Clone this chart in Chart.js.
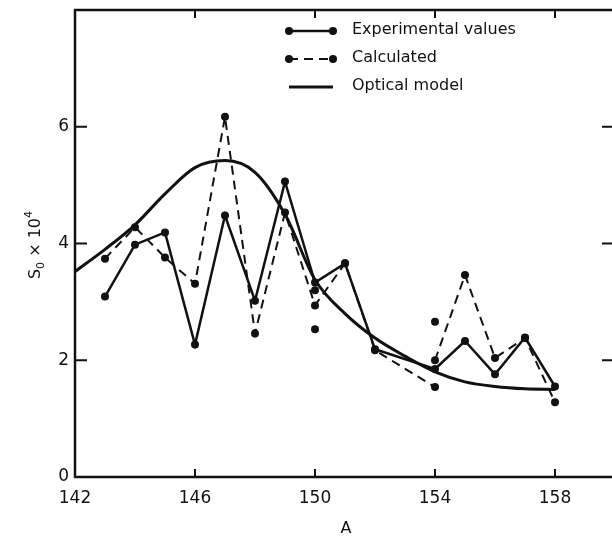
<!DOCTYPE html>
<html>
<head>
<meta charset="utf-8">
<script src="https://cdn.jsdelivr.net/npm/chart.js@4/dist/chart.umd.min.js"></script>
<style>
  html, body { margin: 0; padding: 0; background: #fff; }
  canvas { display: block; }
</style>
</head>
<body>
<canvas id="chart" width="612" height="537"></canvas>
<script>
// mass number A and S0 x 10^4 for each series
const expA = [143, 144, 145, 146, 147, 148, 149, 150, 151, 152, 154, 155, 156, 157, 158];
const expValues = [3.09, 3.98, 4.19, 2.27, 4.48, 3.02, 5.06, 3.33, 3.66, 2.19, 1.85, 2.33, 1.76, 2.39, 1.55];

// the two values at 154 are not joined
const calcA = [143, 144, 145, 146, 147, 148, 149, 150, 151, 152, 154, 154, 154, 155, 156, 157, 158];
const calcValues = [3.74, 4.28, 3.76, 3.31, 6.17, 2.46, 4.53, 2.94, 3.66, 2.17, 1.54, null, 2.0, 3.46, 2.04, 2.38, 1.28];

// loose calculated points
const extraA = [150, 150, 154];
const extraValues = [3.2, 2.53, 2.66];

const opticalA = [142, 143, 144, 145, 146, 147, 148, 149, 150, 151, 152, 153, 154, 155, 156, 157, 158];
const opticalValues = [3.52, 3.9, 4.32, 4.85, 5.3, 5.42, 5.22, 4.5, 3.38, 2.8, 2.38, 2.07, 1.8, 1.63, 1.55, 1.51, 1.5];

const xTicks = [142, 146, 150, 154, 158];
const yTicks = [0, 2, 4, 6];

const ink = "#111";
const fontFamily = "'DejaVu Sans', sans-serif";

function pairs(xs, ys) {
  return xs.map((x, i) => ({ x: x, y: ys[i] }));
}

// left, top and bottom frame lines with inward tick marks;
// the right edge runs off the canvas, only its ticks show
const framePlugin = {
  id: "frame",
  afterDraw(chart) {
    const { ctx, chartArea: a, scales } = chart;
    ctx.save();
    ctx.strokeStyle = ink;
    ctx.lineWidth = 2.5;
    ctx.beginPath();
    ctx.moveTo(a.right + 2, a.top);
    ctx.lineTo(a.left, a.top);
    ctx.lineTo(a.left, a.bottom);
    ctx.lineTo(a.right + 2, a.bottom);
    ctx.stroke();
    ctx.lineWidth = 2;
    ctx.beginPath();
    xTicks.forEach((v) => {
      const px = scales.x.getPixelForValue(v);
      ctx.moveTo(px, a.bottom);
      ctx.lineTo(px, a.bottom - 8);
      ctx.moveTo(px, a.top);
      ctx.lineTo(px, a.top + 8);
    });
    yTicks.forEach((v) => {
      const py = scales.y.getPixelForValue(v);
      ctx.moveTo(a.left, py);
      ctx.lineTo(a.left + 12, py);
      ctx.moveTo(a.right, py);
      ctx.lineTo(a.right - 10, py);
    });
    ctx.stroke();
    ctx.restore();
  },
};

// axis titles, the y one with sub- and superscript
const titlesPlugin = {
  id: "titles",
  afterDraw(chart) {
    const { ctx } = chart;
    ctx.save();
    ctx.fillStyle = ink;
    ctx.textBaseline = "alphabetic";
    ctx.textAlign = "left";

    ctx.font = "16px " + fontFamily;
    const xw = ctx.measureText("A").width;
    ctx.fillText("A", 346 - xw / 2, 533);

    const parts = [
      { t: "S", size: 16, dy: 0 },
      { t: "0", size: 11, dy: 4 },
      { t: " \u00d7 10", size: 16, dy: 0 },
      { t: "4", size: 11, dy: -8 },
    ];
    let total = 0;
    parts.forEach((p) => {
      ctx.font = p.size + "px " + fontFamily;
      p.w = ctx.measureText(p.t).width;
      total += p.w;
    });
    ctx.translate(40, 245);
    ctx.rotate(-Math.PI / 2);
    let x = -total / 2;
    parts.forEach((p) => {
      ctx.font = p.size + "px " + fontFamily;
      ctx.fillText(p.t, x, p.dy);
      x += p.w;
    });
    ctx.restore();
  },
};

// legend in the top right corner, styled from the datasets
const legendPlugin = {
  id: "seriesKey",
  afterDraw(chart) {
    const { ctx } = chart;
    const rows = [0, 1, 3];
    const x0 = 289, x1 = 333, tx = 352;
    ctx.save();
    rows.forEach((di, i) => {
      const ds = chart.data.datasets[di];
      const y = 31 + i * 28;
      ctx.strokeStyle = ink;
      ctx.lineWidth = ds.borderWidth;
      ctx.setLineDash(ds.borderDash || []);
      ctx.beginPath();
      ctx.moveTo(x0, y);
      ctx.lineTo(x1, y);
      ctx.stroke();
      ctx.setLineDash([]);
      if (ds.pointRadius > 0) {
        ctx.fillStyle = ink;
        [x0, x1].forEach((px) => {
          ctx.beginPath();
          ctx.arc(px, y, ds.pointRadius, 0, Math.PI * 2);
          ctx.fill();
        });
      }
      ctx.fillStyle = ink;
      ctx.font = "16px " + fontFamily;
      ctx.textBaseline = "middle";
      ctx.fillText(ds.label, tx, y - 1);
    });
    ctx.restore();
  },
};

new Chart(document.getElementById("chart"), {
  type: "line",
  data: {
    datasets: [
      {
        label: "Experimental values",
        data: pairs(expA, expValues),
        borderColor: ink,
        borderWidth: 2.5,
        pointRadius: 4,
        pointBorderWidth: 0,
        pointBackgroundColor: ink,
      },
      {
        label: "Calculated",
        data: pairs(calcA, calcValues),
        borderColor: ink,
        borderWidth: 2,
        borderDash: [9, 6],
        spanGaps: false,
        pointRadius: 4,
        pointBorderWidth: 0,
        pointBackgroundColor: ink,
      },
      {
        label: "Calculated (other)",
        data: pairs(extraA, extraValues),
        showLine: false,
        borderWidth: 0,
        pointRadius: 4,
        pointBorderWidth: 0,
        pointBackgroundColor: ink,
      },
      {
        label: "Optical model",
        data: pairs(opticalA, opticalValues),
        borderColor: ink,
        borderWidth: 3,
        cubicInterpolationMode: "monotone",
        pointRadius: 0,
      },
    ],
  },
  options: {
    responsive: false,
    animation: false,
    layout: { autoPadding: false, padding: { top: 10, right: 0, left: 0, bottom: 0 } },
    plugins: {
      legend: { display: false },
      tooltip: { enabled: false },
    },
    scales: {
      x: {
        type: "linear",
        min: 142,
        max: 159.9,
        afterBuildTicks: (scale) => {
          scale.ticks = xTicks.map((v) => ({ value: v }));
        },
        afterFit: (scale) => {
          scale.height = 60;
          scale.paddingLeft = 0;
          scale.paddingRight = 0;
        },
        grid: { display: false, drawTicks: false },
        border: { display: false },
        ticks: {
          color: ink,
          padding: 11,
          maxRotation: 0,
          font: { family: fontFamily, size: 17 },
        },
      },
      y: {
        min: 0,
        max: 8,
        afterBuildTicks: (scale) => {
          scale.ticks = yTicks.map((v) => ({ value: v }));
        },
        afterFit: (scale) => {
          scale.width = 75;
          scale.paddingTop = 0;
          scale.paddingBottom = 0;
        },
        grid: { display: false, drawTicks: false },
        border: { display: false },
        ticks: {
          color: ink,
          padding: 6,
          font: { family: fontFamily, size: 17 },
        },
      },
    },
  },
  plugins: [framePlugin, titlesPlugin, legendPlugin],
});
</script>
</body>
</html>
